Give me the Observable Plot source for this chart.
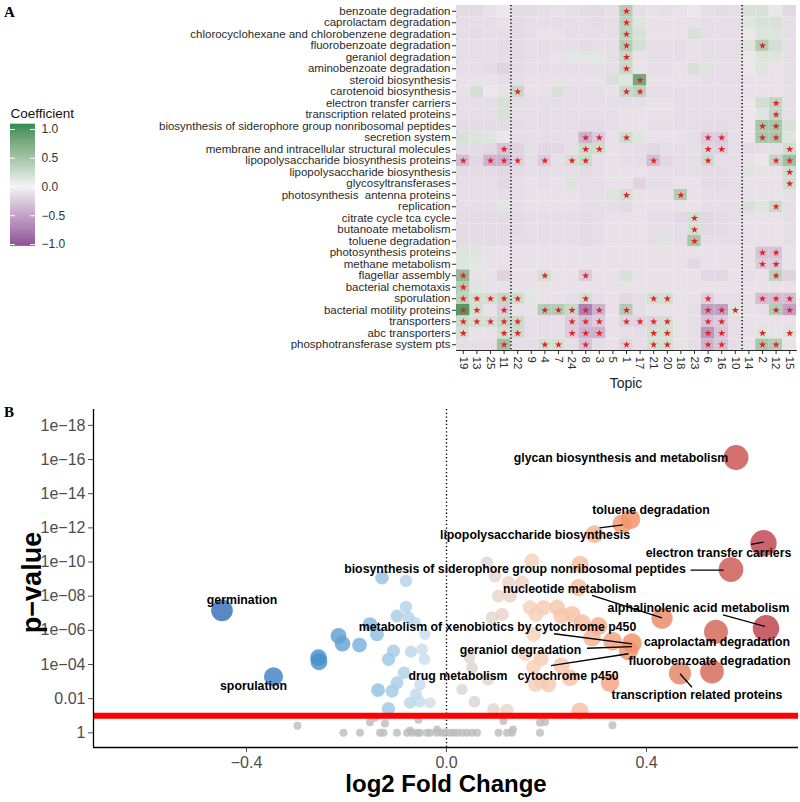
<!DOCTYPE html>
<html>
<head>
<meta charset="utf-8">
<script src="https://cdn.jsdelivr.net/npm/d3@7"></script>
<script src="https://cdn.jsdelivr.net/npm/@observablehq/plot@0.6"></script>
<style>
  body { margin: 0; background: #fff; }
  #root { position: relative; width: 800px; height: 802px; overflow: hidden; background: #fff;
          font-family: "Liberation Sans", Arial, Helvetica, sans-serif; }
  .abs { position: absolute; }
  .panel { font-family: "Liberation Serif", "Times New Roman", serif; font-weight: bold; font-size: 15px; }
</style>
</head>
<body>
<div id="root">
  <div class="abs panel" style="left:4px;top:4px;">A</div>
  <div class="abs panel" style="left:4px;top:404px;">B</div>
  <div id="heat" class="abs" style="left:0;top:0;"></div>
  <div id="legend" class="abs" style="left:0;top:100px;"></div>
  <div class="abs" style="left:526px;top:375px;width:200px;text-align:center;font-size:14px;color:#222;">Topic</div>
  <div id="volcano" class="abs" style="left:0;top:400px;"></div>
  <div class="abs" style="left:-68px;top:567px;width:200px;text-align:center;font-size:27px;font-weight:bold;transform:rotate(-90deg);color:#000;">p−value</div>
  <div class="abs" style="left:246px;top:770px;width:400px;text-align:center;font-size:24px;font-weight:bold;color:#000;">log2 Fold Change</div>
</div>
<script>
// ---------------- Panel A data ----------------
const rowNames = [
  "benzoate degradation",
  "caprolactam degradation",
  "chlorocyclohexane and chlorobenzene degradation",
  "fluorobenzoate degradation",
  "geraniol degradation",
  "aminobenzoate degradation",
  "steroid biosynthesis",
  "carotenoid biosynthesis",
  "electron transfer carriers",
  "transcription related proteins",
  "biosynthesis of siderophore group nonribosomal peptides",
  "secretion system",
  "membrane and intracellular structural molecules",
  "lipopolysaccharide biosynthesis proteins",
  "lipopolysaccharide biosynthesis",
  "glycosyltransferases",
  "photosynthesis  antenna proteins",
  "replication",
  "citrate cycle tca cycle",
  "butanoate metabolism",
  "toluene degradation",
  "photosynthesis proteins",
  "methane metabolism",
  "flagellar assembly",
  "bacterial chemotaxis",
  "sporulation",
  "bacterial motility proteins",
  "transporters",
  "abc transporters",
  "phosphotransferase system pts"
];
const topics = ["19","13","25","11","22","9","4","7","24","8","3","5","1","17","21","20","18","23","6","16","10","14","2","12","15"];
const coef = [
  [-.11,-.11,-.07,-.04,-.10,-.10,-.09,-.07,-.09,-.10,-.11,-.09,.30,-.09,-.07,-.09,-.07,-.05,-.09,-.10,-.09,.12,.12,-.05,-.12],
  [-.09,-.09,-.09,-.07,-.10,-.09,-.09,-.09,-.09,-.09,-.10,-.09,.25,.09,-.07,-.07,-.07,-.07,-.09,-.09,-.09,.09,.12,.12,-.09],
  [-.09,-.10,-.09,-.09,-.10,-.09,-.07,-.07,-.09,-.09,-.09,-.09,.25,.12,-.07,-.07,-.07,.12,-.09,-.09,-.09,-.05,.10,.10,-.09],
  [-.09,-.09,-.09,-.10,-.10,-.09,-.09,-.09,-.09,-.10,-.09,-.09,.30,.14,-.09,-.09,-.09,-.07,-.09,-.09,-.09,.10,.30,.14,-.09],
  [-.09,-.09,-.09,-.09,-.10,-.09,-.09,-.07,.08,.08,.08,-.09,.20,-.07,-.09,-.09,-.09,-.07,-.09,-.09,-.09,-.05,.10,.10,-.09],
  [-.09,-.09,-.10,-.14,-.10,-.09,-.09,-.09,-.09,-.09,-.09,-.09,.20,-.07,-.09,-.09,-.07,.12,.10,-.09,-.09,-.05,.10,-.07,-.09],
  [-.07,-.07,-.07,-.09,-.09,-.07,-.07,-.07,-.07,-.07,-.07,.12,.09,.60,-.07,-.07,-.07,-.07,-.09,-.09,-.09,-.07,-.07,-.07,-.09],
  [-.07,.14,-.05,-.07,.20,-.07,-.07,.12,-.09,-.09,-.09,-.07,.20,.25,-.09,-.09,-.09,-.09,-.09,-.09,-.09,-.07,-.07,-.07,-.09],
  [-.09,-.09,-.09,.12,-.09,-.09,-.09,-.09,-.09,-.09,-.09,-.09,-.09,-.09,-.07,-.07,-.09,-.09,-.09,-.09,-.09,-.05,.14,.22,-.09],
  [-.09,-.09,-.09,.12,-.09,-.09,-.09,-.09,-.09,-.09,-.09,-.09,-.07,-.07,-.07,-.07,-.09,-.09,-.09,-.09,-.09,-.05,.09,.22,-.09],
  [-.10,-.10,-.10,-.10,-.10,-.09,-.09,-.09,-.09,-.10,-.10,-.09,-.07,-.07,-.09,-.09,-.09,-.09,-.10,-.10,-.09,-.05,.35,.35,.12],
  [.12,.10,.09,-.05,-.09,-.09,-.09,-.09,-.09,-.30,-.18,-.07,.16,.09,-.07,-.07,-.07,-.09,-.18,-.18,-.09,-.05,.35,.35,.09],
  [-.10,-.10,-.12,-.22,-.14,-.09,-.12,-.12,-.09,.18,.16,-.07,-.09,-.09,-.12,-.09,-.09,-.09,-.14,-.16,-.09,-.10,-.09,-.09,.16],
  [-.25,-.12,-.30,-.30,-.16,-.09,-.18,-.09,.14,.18,-.09,-.07,-.09,-.09,-.25,-.12,-.09,-.09,.18,-.09,-.09,-.07,-.05,.22,.40],
  [-.10,-.10,-.10,-.12,-.10,-.09,-.09,-.09,-.09,-.10,-.09,-.07,-.07,-.07,-.09,-.09,-.09,-.09,-.10,-.10,-.09,.09,-.07,-.07,.16],
  [-.09,-.09,-.09,-.12,-.09,-.07,-.09,-.07,.10,-.09,-.09,-.07,-.07,-.14,-.09,-.09,-.07,-.07,-.10,-.10,-.09,-.07,-.07,-.07,.16],
  [-.09,-.09,-.09,-.09,-.09,-.07,-.07,-.07,-.07,-.09,-.09,.10,.14,-.07,-.07,-.07,.30,-.07,-.09,-.09,-.09,-.07,-.07,-.07,-.09],
  [-.09,-.09,-.09,.08,-.09,-.07,-.07,-.07,-.07,-.09,-.09,-.09,-.11,-.07,-.07,-.07,-.07,-.07,-.09,-.09,-.09,.12,.09,.18,-.09],
  [-.10,-.10,-.10,-.10,-.10,-.09,-.09,-.09,-.09,-.10,-.09,-.07,-.07,-.07,-.09,-.09,-.12,.14,-.12,-.10,-.09,-.07,-.07,-.07,-.09],
  [-.10,-.10,-.10,-.10,-.10,-.09,-.09,-.09,-.09,-.10,-.09,-.07,-.07,-.07,-.09,-.09,-.09,.14,-.12,-.10,-.09,-.07,-.07,-.07,-.09],
  [-.10,-.10,-.10,-.10,-.09,-.09,-.09,-.09,-.09,-.10,-.09,-.07,-.07,-.07,-.09,.09,-.09,.35,-.09,-.09,-.09,-.07,-.07,-.07,-.09],
  [.10,.09,-.07,-.07,-.07,-.07,-.07,-.07,-.07,-.07,-.07,-.07,-.07,-.07,-.07,-.07,-.07,-.07,-.07,-.07,-.07,-.07,-.22,-.22,-.07],
  [.09,.08,-.07,-.07,-.07,-.07,-.07,-.07,-.07,-.07,-.07,-.07,-.07,-.07,-.07,-.07,-.07,-.12,-.07,-.07,-.07,-.07,-.18,-.18,-.07],
  [.45,-.07,-.07,-.14,-.07,-.07,.14,-.07,-.07,-.18,-.07,-.07,.12,-.07,-.07,-.07,-.07,-.07,-.12,-.12,-.07,-.09,-.07,.25,-.14],
  [.30,.09,-.07,-.07,-.07,-.07,-.07,-.07,-.07,-.07,-.07,-.07,-.07,-.07,-.07,-.07,-.07,-.07,-.07,-.07,-.07,-.07,-.07,-.07,-.07],
  [.25,.14,.14,.20,.16,.08,-.07,-.07,-.09,.14,-.09,-.07,-.12,-.09,.14,.14,-.07,-.07,-.16,-.09,-.09,-.07,-.25,-.25,-.25],
  [.75,.14,-.07,-.18,-.07,-.07,.30,.30,.20,-.55,-.30,-.07,.30,-.09,-.07,-.07,-.07,-.09,-.40,-.40,.09,-.07,-.09,.30,-.40],
  [.18,.14,.14,.20,.18,-.09,-.09,-.09,-.18,-.25,-.18,-.07,-.14,-.14,-.14,.14,-.07,-.09,-.22,-.18,-.09,-.07,-.07,-.07,-.07],
  [.14,-.07,-.07,.14,.18,-.09,-.09,-.09,-.18,-.30,-.30,-.07,-.09,-.09,.14,.14,-.07,-.09,-.45,-.22,-.09,-.07,.09,-.07,.09],
  [-.09,-.09,-.09,.40,-.09,-.09,.14,.14,-.09,-.22,-.09,-.07,-.14,-.09,.14,.14,-.07,-.09,-.30,-.22,-.09,-.07,.35,.30,-.07]
];
// significant cells: column indices (into topics) per row
const starCols = [
  [12],[12],[12],[12,22],[12],[12],[13],[4,12,13],[23],[23],[22,23],
  [9,10,12,18,19,22,23],
  [3,9,10,18,19,24],
  [0,2,3,4,6,8,9,14,18,23,24],
  [24],[24],[12,16],[23],[17],[17],[17],[22,23],[22,23],
  [0,6,9,23],
  [0],
  [0,1,2,3,4,9,14,15,18,22,23,24],
  [0,1,3,6,7,8,9,10,12,18,19,20,23,24],
  [0,1,2,3,4,8,9,10,12,13,14,15,18,19],
  [0,3,4,8,9,10,14,15,18,19,22,24],
  [3,6,7,9,12,14,15,18,19,22,23]
];
const dividerTopics = ["22","14"];
const legendTicks = [-1, -0.5, 0, 0.5, 1];
const legendTickLabels = ["−1.0", "−0.5", "0.0", "0.5", "1.0"];

// ---------------- Panel B data ----------------
// significant pathways: log2 fold change and -log10(p)
const sigFc = [
  -0.449,-0.346,-0.216,-0.208,-0.256,-0.255,-0.174,-0.153,-0.139,-0.129,-0.081,-0.081,-0.099,-0.076,-0.063,-0.043,
  -0.106,-0.116,-0.071,-0.049,-0.044,-0.085,-0.099,-0.137,-0.109,-0.061,-0.053,-0.073,-0.054,-0.033,-0.116,
  0.579,0.368,0.351,0.296,0.634,0.569,0.267,0.171,0.081,0.097,0.124,0.151,0.264,0.104,0.127,0.167,0.194,0.221,
  0.111,0.091,0.179,0.230,0.251,0.271,0.304,0.431,0.639,0.539,0.174,0.291,0.332,0.371,0.364,0.158,0.189,0.174,
  0.230,0.467,0.531,0.189,0.204,0.178,0.327,0.247,0.267,0.121,0.094,0.056,0.031,0.046,0.051,0.083
];
const sigLogP = [
  7.17,3.28,5.67,5.22,4.40,4.16,5.14,6.35,5.77,9.08,8.89,7.37,6.84,6.74,6.45,5.77,
  4.79,4.30,4.75,4.89,4.30,3.52,2.93,2.50,2.44,2.25,2.83,1.76,1.82,1.76,1.41,
  16.12,12.50,12.22,11.63,11.10,9.56,9.87,10.08,9.96,9.19,8.79,8.79,8.50,8.01,8.01,7.33,7.33,7.33,
  6.94,6.74,6.94,6.84,6.94,6.45,6.25,6.71,6.12,5.92,5.77,5.57,5.37,5.25,4.82,4.62,4.33,3.84,
  3.94,3.48,3.58,3.03,2.83,2.83,2.93,3.22,1.27,1.31,1.37,1.82,2.54,4.40,3.81,3.13
];
// non-significant pathways
const nsFc = [
  -0.298,-0.143,-0.153,-0.123,-0.056,-0.019,-0.073,0.114,0.133,0.187,0.197,0.332,
  -0.206,-0.173,-0.133,-0.126,-0.099,-0.079,-0.069,-0.059,-0.053,-0.039,-0.033,-0.019,-0.009,-0.003,
  0.007,0.014,0.021,0.031,0.041,0.051,0.061,0.104,0.121,0.131,0.187
];
const nsLogP = [
  0.41,0.88,0.62,0.55,0.76,0.20,0.14,0.69,0.20,0.59,0.64,0.45,
  0,0,0,0,0,0,0,0,0,0,0,0,0,0,
  0,0,0,0,0,0,0,0,0,0,0
];
const labelNames = [
  "germination","sporulation","glycan biosynthesis and metabolism","toluene degradation",
  "lipopolysaccharide biosynthesis","electron transfer carriers",
  "biosynthesis of siderophore group nonribosomal peptides","nucleotide metabolism",
  "alphalinolenic acid metabolism","metabolism of xenobiotics by cytochrome p450",
  "caprolactam degradation","geraniol degradation","fluorobenzoate degradation",
  "drug metabolism","cytochrome p450","transcription related proteins"
];
const labelFc = [-0.409,-0.386,0.349,0.409,0.177,0.544,0.137,0.246,0.504,0.102,0.541,0.148,0.526,0.023,0.243,0.501];
const labelLogP = [7.79,2.73,16.10,13.06,11.55,10.54,9.56,8.43,7.28,6.18,5.31,4.86,4.19,3.30,3.30,2.19];
const leaderFc1 = [0.306,0.609,0.488,0.291,0.553,0.215,0.281,0.209,0.491];
const leaderP1  = [12.00,11.03,9.53,8.04,6.91,5.80,4.95,3.94,2.67];
const leaderFc2 = [0.353,0.634,0.554,0.431,0.637,0.371,0.371,0.364,0.467];
const leaderP2  = [12.18,11.16,9.53,6.73,6.23,5.21,5.05,4.63,3.46];
const xDomain = [-0.706, 0.704];
const yDomain = [-0.86, 18.93];
const xTicks = [-0.4, 0, 0.4];
const xTickLabels = ["−0.4", "0.0", "0.4"];
const yTicks = [0, 2, 4, 6, 8, 10, 12, 14, 16, 18];
const yTickLabels = ["1", "0.01", "1e−04", "1e−06", "1e−08", "1e−10", "1e−12", "1e−14", "1e−16", "1e−18"];
const pThreshold = 1;

const FONT = "'Liberation Sans', Arial, Helvetica, sans-serif";

// ---------------- Panel A ----------------
const heatColor = {type: "linear", domain: [-1, 0, 1], range: ["#762a83", "#f0f0f0", "#1b7837"], interpolate: "lab"};
const cells = rowNames.flatMap((r, i) => topics.map((t, j) => ({row: r, topic: t, v: coef[i][j]})));
const stars = rowNames.flatMap((r, i) => starCols[i].map(j => ({row: r, topic: topics[j]})));
const bw = (800 - 456 - 4) / topics.length;

const heat = Plot.plot({
  width: 800, height: 398,
  marginLeft: 456, marginRight: 4, marginTop: 5, marginBottom: 48,
  style: {fontFamily: FONT, fontSize: "11.5px", color: "#2a2a2a", background: "transparent"},
  x: {domain: topics, padding: 0, round: false, tickRotate: 90, tickSize: 4, tickPadding: 2, label: null, line: true},
  y: {domain: rowNames, padding: 0, round: false, tickSize: 4, tickPadding: 2, label: null, line: true},
  color: heatColor,
  marks: [
    Plot.cell(cells, {x: "topic", y: "row", fill: "v"}),
    Plot.dot(stars, {x: "topic", y: "row", symbol: "star", r: 2.3, fill: "#e62222", stroke: "none"}),
    Plot.ruleX(dividerTopics, {dx: -bw / 2, stroke: "#000", strokeWidth: 1.5, strokeDasharray: "1.3,2.2"})
  ]
});
document.getElementById("heat").appendChild(heat);

const legendSteps = d3.range(-1.03, 1.09, 0.01);
const legend = Plot.plot({
  width: 100, height: 160, margin: 0,
  style: {fontFamily: FONT, fontSize: "12px", color: "#333", background: "transparent"},
  x: {domain: [0, 1], range: [10, 35], axis: null},
  y: {domain: [-1, 1], range: [144, 29], axis: null},
  color: heatColor,
  marks: [
    Plot.rect(legendSteps, {x1: 0, x2: 1, y1: d => d, y2: d => d + 0.011, fill: d => d}),
    Plot.ruleY(legendTicks, {x1: 0, x2: 0.2, stroke: "#fff", strokeWidth: 1}),
    Plot.ruleY(legendTicks, {x1: 0.8, x2: 1, stroke: "#fff", strokeWidth: 1}),
    Plot.text(legendTicks, {x: 1, y: d => d, dx: 6, text: (d, i) => legendTickLabels[i], textAnchor: "start", fill: "#333"}),
    Plot.text(["Coefficient"], {x: 0, y: 1.27, text: d => d, textAnchor: "start", fontSize: 13.5, fill: "#111"})
  ]
});
document.getElementById("legend").appendChild(legend);

// ---------------- Panel B ----------------
const sig = sigFc.map((fc, i) => ({fc, p: sigLogP[i]}));
const ns = nsFc.map((fc, i) => ({fc, p: nsLogP[i]}));
const labels = labelNames.map((name, i) => ({name, fc: labelFc[i], p: labelLogP[i]}));
const leaders = leaderFc1.map((x1, i) => ({x1, y1: leaderP1[i], x2: leaderFc2[i], y2: leaderP2[i]}));

const volcano = Plot.plot({
  width: 800, height: 402,
  marginTop: 9, marginBottom: 55, marginLeft: 93, marginRight: 2,
  style: {fontFamily: FONT, fontSize: "16px", color: "#4d4d4d", background: "transparent"},
  x: {domain: xDomain, ticks: xTicks, tickFormat: d => xTickLabels[xTicks.indexOf(d)], tickSize: 5, tickPadding: 4, label: null},
  y: {domain: yDomain, ticks: yTicks, tickFormat: d => yTickLabels[yTicks.indexOf(d)], tickSize: 5, tickPadding: 3, label: null},
  color: {
    type: "linear",
    domain: [-0.7, -0.45, -0.25, -0.13, -0.04, 0, 0.08, 0.17, 0.27, 0.37, 0.47, 0.58, 0.7],
    range: ["#1f5aa5", "#2f6ab5", "#4590cc", "#92c1e2", "#cbdfec", "#d3d3d3", "#dfd5d0", "#f5d0b9", "#f6bc9c", "#f18d63", "#e28160", "#c94c4a", "#b02a43"]
  },
  r: {type: "linear", domain: [0, 0.7], range: [5.2, 14]},
  marks: [
    Plot.ruleX([0], {stroke: "#000", strokeWidth: 1.4, strokeDasharray: "1.3,2.4"}),
    Plot.dot(ns, {x: "fc", y: "p", r: 4, fill: "#bbbbbb", fillOpacity: 0.8}),
    Plot.dot(sig, {x: "fc", y: "p", r: d => Math.abs(d.fc), fill: "fc", fillOpacity: 0.8}),
    Plot.ruleY([pThreshold], {stroke: "#ff0000", strokeWidth: 6}),
    Plot.link(leaders, {x1: "x1", y1: "y1", x2: "x2", y2: "y2", stroke: "#000", strokeWidth: 1.3}),
    Plot.text(labels, {x: "fc", y: "p", text: "name", fontWeight: "bold", fontSize: 12.3, fill: "#000"}),
    Plot.ruleX([xDomain[0]], {stroke: "#000", strokeWidth: 1.3}),
    Plot.ruleY([yDomain[0]], {stroke: "#000", strokeWidth: 1.3})
  ]
});
document.getElementById("volcano").appendChild(volcano);
</script>
</body>
</html>
